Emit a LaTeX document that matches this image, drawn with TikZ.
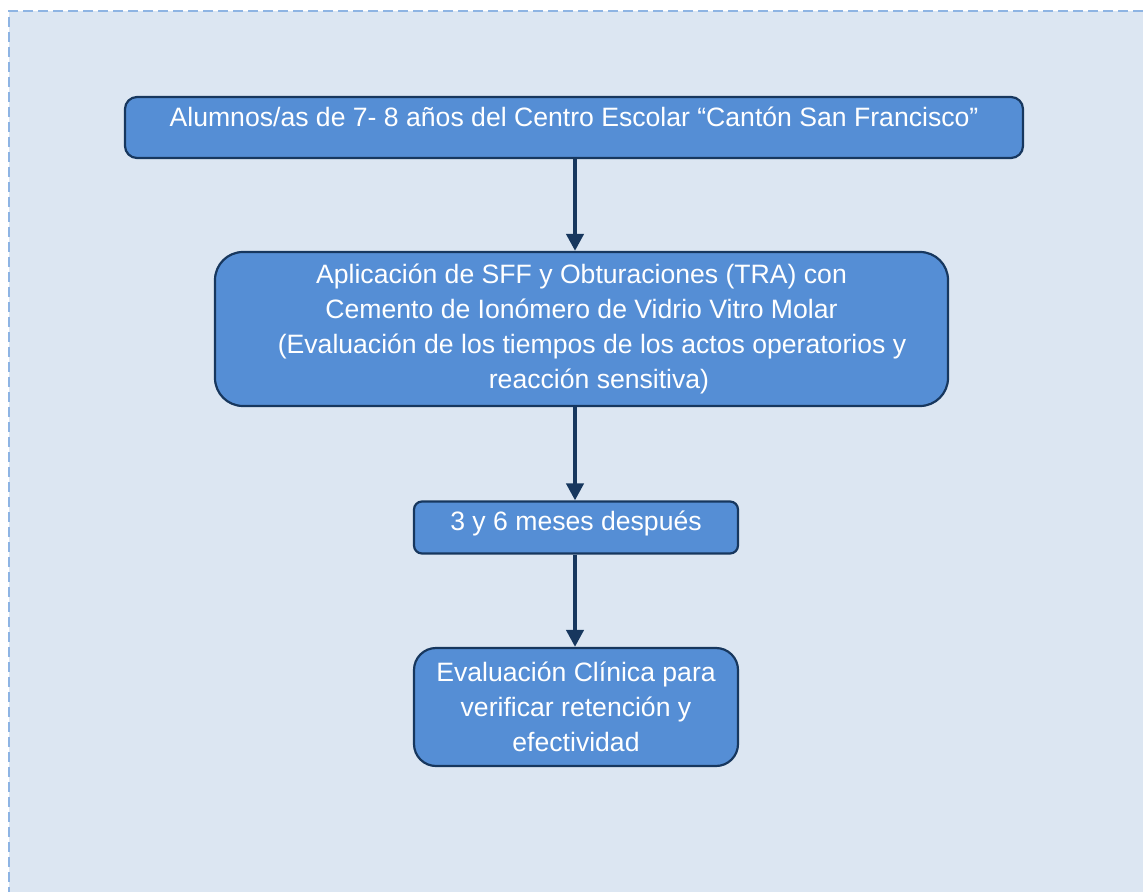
\documentclass[tikz,border=0pt]{standalone}
\usepackage{fontspec}
\setmainfont{Liberation Sans}
\usetikzlibrary{arrows.meta}
\definecolor{panelfill}{HTML}{DCE6F2}
\definecolor{paneledge}{HTML}{8EB4E3}
\definecolor{boxfill}{HTML}{558ED5}
\definecolor{navy}{HTML}{17375E}
\tikzset{
  stagebox/.style={draw=navy, line width=1.1pt, fill=boxfill, text=white,
    align=center, inner sep=0pt,
    font=\fontsize{13.3pt}{17.5pt}\selectfont},
  flowarrow/.style={draw=navy, line width=2pt,
    -{Triangle[width=8.5pt,length=8.5pt]}},
}
\begin{document}
\begin{tikzpicture}[x=0.5pt,y=-0.5pt]
  \useasboundingbox (0,0) rectangle (1143,892);
  % shaded panel with a dashed top and left edge
  \fill[panelfill] (9,11) rectangle (1143,892);
  \draw[paneledge, line width=1pt, dash pattern=on 5pt off 2.5pt]
    (1143,11) -- (9,11) -- (9,892);

  \node[stagebox, rounded corners=6pt, minimum width=449pt, minimum height=30.5pt,
        text height=7pt, text depth=7.5pt] (b1) at (574,127.5)
    {Alumnos/as de 7- 8 años del Centro Escolar “Cantón San Francisco”};

  \node[stagebox, rounded corners=14pt, minimum width=366.5pt, minimum height=77pt]
    (b2) at (581.5,329)
    {Aplicación de SFF y Obturaciones (TRA) con\\
     Cemento de Ionómero de Vidrio Vitro Molar\\
     \hspace*{10.5pt}(Evaluación de los tiempos de los actos operatorios y\\
     \hspace*{17.5pt}reacción sensitiva)};

  \node[stagebox, rounded corners=4pt, minimum width=162pt, minimum height=26pt,
        text height=9.5pt, text depth=7pt] (b3) at (576,527.5)
    {3 y 6 meses después};

  \node[stagebox, rounded corners=11pt, minimum width=162pt, minimum height=59pt]
    (b4) at (576,707)
    {Evaluación Clínica para\\ verificar retención y\\ efectividad};

  \coordinate (ax) at (575,0);
  \draw[flowarrow] (b1.south -| ax) -- (b2.north -| ax);
  \draw[flowarrow] (b2.south -| ax) -- (b3.north -| ax);
  \draw[flowarrow] (b3.south -| ax) -- (b4.north -| ax);
\end{tikzpicture}
\end{document}
